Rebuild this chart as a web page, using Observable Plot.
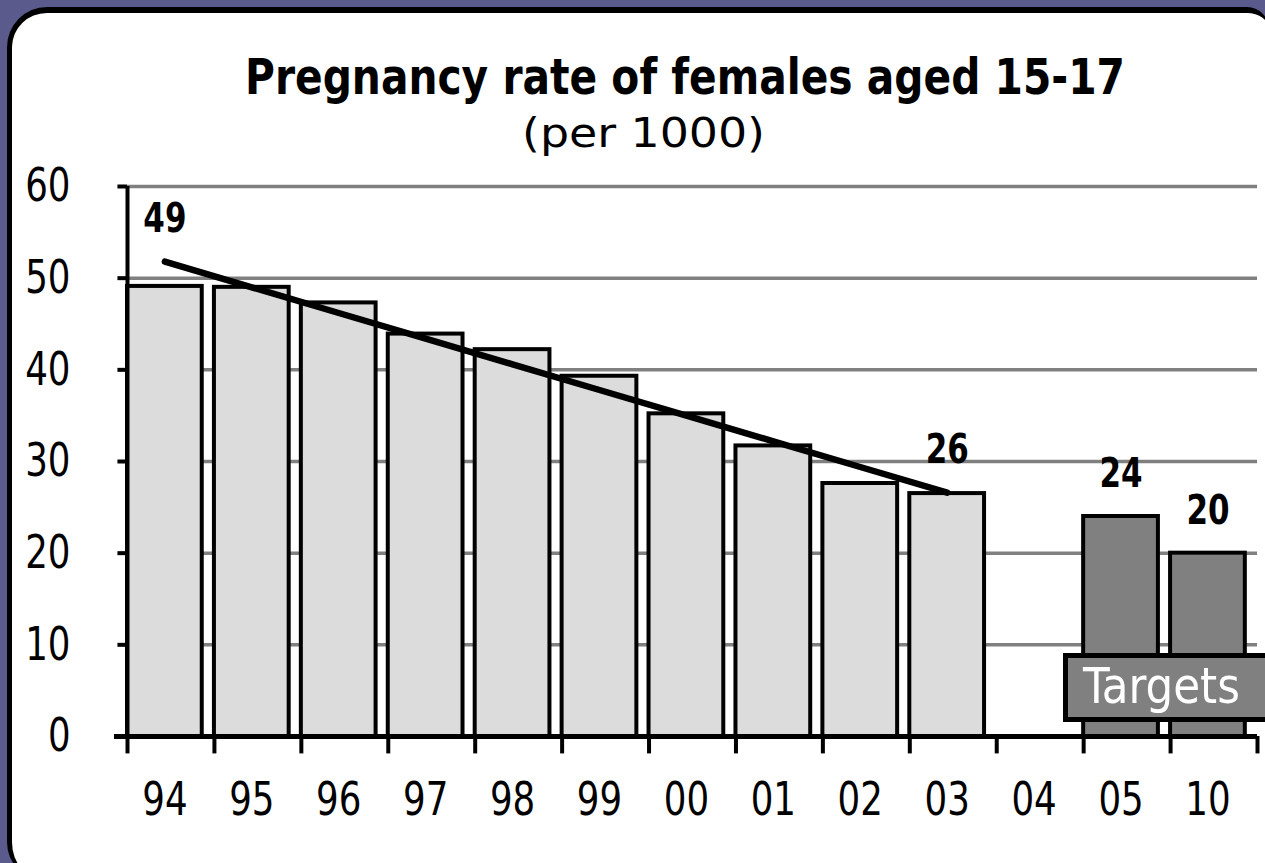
<!DOCTYPE html>
<html>
<head>
<meta charset="utf-8">
<script src="https://cdn.jsdelivr.net/npm/d3@7"></script>
<script src="https://cdn.jsdelivr.net/npm/@observablehq/plot@0.6"></script>
<style>
  html, body { margin: 0; padding: 0; width: 1265px; height: 863px; overflow: hidden; background: #5a5a8c; }
  #panel { position: absolute; left: 7px; top: 7px; width: 1262px; height: 875px; background: #fff;
           border-style: solid; border-color: #000; border-width: 6px 0 0 5px; border-radius: 40px 22px 0 40px; box-sizing: border-box; }
  .txt { position: absolute; white-space: nowrap; color: #000; transform-origin: 0 0;
         font-family: "Liberation Sans Narrow", "DejaVu Sans Condensed", "Liberation Sans", sans-serif; line-height: 1; }
  #title { top: 52px; font-size: 50px; font-weight: bold; }
  #subtitle { top: 113px; font-size: 40px; }
  #chart { position: absolute; left: 0; top: 160px; }
  #legend { position: absolute; left: 1063px; top: 653px; width: 210px; height: 69px; box-sizing: border-box;
            background: #808080; border: 5px solid #000; border-right: none; }
  #legendText { position: absolute; left: 1083px; top: 661px; color: #fff; white-space: nowrap; transform-origin: 0 0;
            font-family: "Liberation Sans Narrow", "DejaVu Sans Condensed", "Liberation Sans", sans-serif;
            font-size: 50px; line-height: 1; }
</style>
</head>
<body>
<div id="panel"></div>
<div id="title" class="txt">Pregnancy rate of females aged 15-17</div>
<div id="subtitle" class="txt">(per 1000)</div>
<div id="chart"></div>
<div id="legend"></div>
<div id="legendText">Targets</div>
<script>
// ---- data ----
const years = ["94", "95", "96", "97", "98", "99", "00", "01", "02", "03", "04", "05", "10"];
const actualRates = [49.1, 49.0, 47.3, 43.9, 42.2, 39.3, 35.2, 31.7, 27.6, 26.5, null, null, null];
const targetRates = [null, null, null, null, null, null, null, null, null, null, null, 24.0, 20.0];
const trendRates = [51.8, 49.0, 46.2, 43.4, 40.6, 37.8, 35.0, 32.2, 29.4, 26.6];
const labelYears = ["94", "03", "05", "10"];
const labelTexts = ["49", "26", "24", "20"];
const yTicks = [0, 10, 20, 30, 40, 50, 60];

// ---- derived tables ----
const rows = years.map((year, i) => ({ year, i, actual: actualRates[i], target: targetRates[i] }));
const actualRows = rows.filter(d => d.actual != null);
const targetRows = rows.filter(d => d.target != null);
const trendRows = trendRates.map((t, i) => ({ i, t }));
const labelRows = labelYears.map((y, k) => {
  const i = years.indexOf(y);
  const v = Math.max(actualRates[i] ?? -Infinity, targetRates[i] ?? -Infinity, trendRates[i] ?? -Infinity);
  return { i, v, text: labelTexts[k] };
});
const bandIdx = d3.range(years.length + 1);

const FONT = '"Liberation Sans Narrow", "DejaVu Sans Condensed", "Liberation Sans", sans-serif';
const BAR = 0.86, MID = 0.43;

const plot = Plot.plot({
  width: 1265,
  height: 703,
  marginTop: 26,
  marginBottom: 127,
  marginLeft: 127,
  marginRight: 8,
  style: { background: "transparent", overflow: "visible" },
  x: { domain: [0, years.length], axis: null },
  y: { domain: [0, 60], axis: null },
  marks: [
    Plot.ruleY(yTicks.filter(d => d > 0), { stroke: "#808080", strokeWidth: 3.5 }),
    Plot.rectY(actualRows, { x1: d => d.i, x2: d => d.i + BAR, y1: 0, y2: "actual",
      fill: "#dcdcdc", stroke: "#000", strokeWidth: 4 }),
    Plot.rectY(targetRows, { x1: d => d.i, x2: d => d.i + BAR, y1: 0, y2: "target",
      fill: "#808080", stroke: "#000", strokeWidth: 4 }),
    Plot.line(trendRows, { x: d => d.i + MID, y: "t", stroke: "#000", strokeWidth: 6.5 }),
    // axes
    Plot.ruleX([0], { y1: 0, y2: 60, stroke: "#000", strokeWidth: 4 }),
    Plot.ruleY([0], { x1: -0.15, x2: years.length, stroke: "#000", strokeWidth: 5 }),
    Plot.ruleX(bandIdx, { x: d => d, y1: 0, y2: -1.9, stroke: "#000", strokeWidth: 4 }),
    Plot.ruleY(yTicks, { y: d => d, x1: -0.11, x2: 0, stroke: "#000", strokeWidth: 4 }),
    Plot.text(yTicks, { x: 0, y: d => d, dx: -57, text: d => String(d), textAnchor: "end",
      fontSize: 46, fontFamily: FONT, fill: "#000" }),
    Plot.text(rows, { x: d => d.i + MID, y: 0, dy: 64, text: "year",
      fontSize: 46, fontFamily: FONT, fill: "#000" }),
    Plot.text(labelRows, { x: d => d.i + MID, y: "v", dy: -42, text: "text",
      fontSize: 40, fontWeight: "bold", fontFamily: FONT, fill: "#000" })
  ]
});
document.getElementById("chart").appendChild(plot);

// squeeze the axis numerals horizontally to match the narrow bitmap font of the reference
plot.querySelectorAll("text").forEach(t => {
  if (t.getAttribute("font-weight") === "bold") return;
  const w = t.getComputedTextLength();
  t.setAttribute("textLength", (w * 0.86).toFixed(1));
  t.setAttribute("lengthAdjust", "spacingAndGlyphs");
});

function fit(id, left, width) {
  const el = document.getElementById(id);
  el.style.left = left + "px";
  const w = el.getBoundingClientRect().width;
  el.style.transform = `scaleX(${width / w})`;
}
fit("title", 245, 880);
fit("subtitle", 522, 243);
fit("legendText", 1083, 157);
</script>
</body>
</html>
